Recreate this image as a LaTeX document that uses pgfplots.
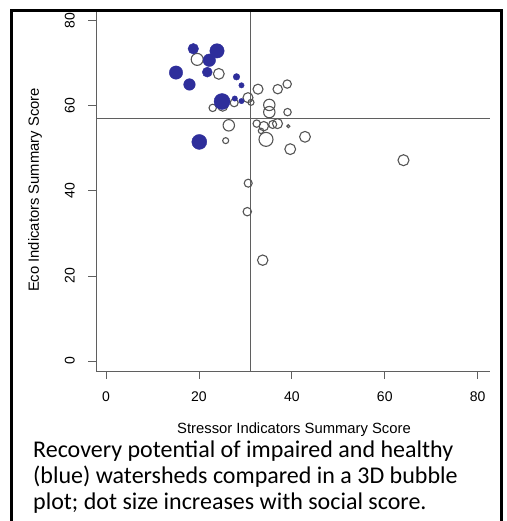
\documentclass[border=0pt]{standalone}
\usepackage{pgfplots}
\pgfplotsset{compat=1.18}
\usepackage{pgfplotstable}
\usepackage{fontspec}
\setmainfont{Liberation Sans}
\newfontfamily\carlito{Carlito}

\definecolor{dotblue}{RGB}{46,46,155}
\definecolor{ringgray}{RGB}{85,85,85}
\definecolor{axgray}{RGB}{95,95,95}

% impaired watersheds (open circles): stressor, eco, radius in px
\pgfplotstableread{
x     y     r
19.63 70.9  6.0
24.28 67.5  5.4
32.72 63.9  5.0
36.96 63.9  4.7
39.00 65.1  4.2
30.56 61.9  5.0
31.21 60.8  3.0
27.59 60.7  4.0
25.12 59.9  5.0
22.97 59.5  3.7
35.15 60.2  5.7
35.15 58.5  5.7
39.07 58.5  3.7
26.43 55.4  5.7
32.44 55.8  3.7
33.96 55.2  4.7
33.36 54.1  2.7
35.88 55.6  4.0
36.91 55.8  5.0
39.24 55.2  1.5
25.76 51.8  3.0
34.44 52.1  7.0
42.83 52.7  5.4
39.65 49.8  5.4
64.03 47.2  5.5
30.61 41.8  4.0
30.41 35.1  4.2
33.73 23.7  5.2
}\impaired

% healthy watersheds (blue)
\pgfplotstableread{
x     y     r
18.79 73.4  5.3
23.89 72.9  7.2
22.23 70.7  6.3
15.07 67.8  6.7
21.80 67.9  5.0
17.97 65.0  5.8
28.09 66.8  3.3
29.16 64.8  2.7
24.97 61.0  8.0
27.72 61.7  2.7
29.16 61.1  2.7
20.08 51.5  7.5
}\healthy

\begin{document}
\begin{tikzpicture}[x=1pt,y=1pt]
\path[use as bounding box] (0,0) rectangle (506,521);
\draw[line width=2.6pt,black] (11.5,-10) rectangle (501.5,510.5);

\begin{axis}[
    at={(96pt,150pt)}, anchor=south west,
    scale only axis,
    width=394pt, height=359pt,
    xmin=-2.15, xmax=82.65,
    ymin=-2.35, ymax=82.04,
    axis x line*=bottom, axis y line*=left,
    axis line style={axgray, line width=0.8pt, -},
    xtick={0,20,40,60,80}, ytick={0,20,40,60,80},
    tick align=outside,
    major tick length=8pt,
    tick style={axgray, line width=0.8pt},
    /pgf/number format/assume math mode=true,
    ticklabel style={font=\fontsize{14}{15}\selectfont, inner sep=0pt},
    xticklabel style={anchor=north, yshift=-13pt},
    yticklabel style={rotate=90, anchor=south, yshift=13pt},
    clip=false,
]
\addplot[scatter, only marks, mark=o, line width=1.1pt,
    point meta=\thisrow{r},
    visualization depends on={\thisrow{r} \as \rr},
    scatter/use mapped color={draw=ringgray, fill=none},
    scatter/@pre marker code/.append style={/tikz/mark size=\rr}]
    table[x=x, y=y] {\impaired};
\addplot[scatter, only marks, mark=*,
    point meta=\thisrow{r},
    visualization depends on={\thisrow{r} \as \rr},
    scatter/use mapped color={draw=dotblue, fill=dotblue},
    scatter/@pre marker code/.append style={/tikz/mark size=\rr}]
    table[x=x, y=y] {\healthy};
\draw[axgray, line width=0.8pt] (axis cs:-2.15,57) -- (axis cs:82.65,57);
\draw[axgray, line width=0.8pt] (axis cs:31,-2.35) -- (axis cs:31,82.04);
\end{axis}

\node[font=\fontsize{14.8}{16}\selectfont] at (294,91) {Stressor Indicators Summary Score};
\node[font=\fontsize{14.8}{16}\selectfont, rotate=90] at (35,331) {Eco Indicators Summary Score};

\node[anchor=base west, inner sep=0pt, font=\carlito\fontsize{24}{26}\selectfont] at (33,63.3) {Recovery potential of impaired and healthy};
\node[anchor=base west, inner sep=0pt, font=\carlito\fontsize{24}{26}\selectfont] at (33,37) {(blue) watersheds compared in a 3D bubble};
\node[anchor=base west, inner sep=0pt, font=\carlito\fontsize{24}{26}\selectfont] at (33,11) {plot; dot size increases with social score.};
\end{tikzpicture}
\end{document}
